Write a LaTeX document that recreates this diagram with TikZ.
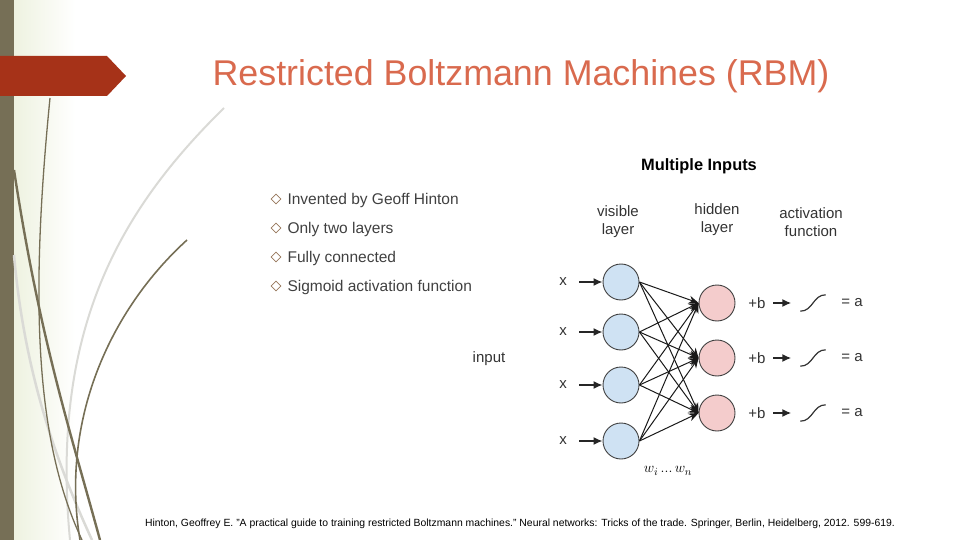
\documentclass[tikz,border=0pt]{standalone}
\usepackage{fontspec}
\setmainfont{Liberation Sans}
\usetikzlibrary{arrows.meta,positioning,shapes.geometric}
\definecolor{barolive}{RGB}{118,111,86}
\definecolor{bannerred}{RGB}{166,50,24}
\definecolor{titlecoral}{RGB}{217,106,78}
\definecolor{visblue}{RGB}{207,226,243}
\definecolor{hidpink}{RGB}{244,204,204}
\definecolor{curvegray}{RGB}{218,218,214}
\definecolor{bulletc}{RGB}{150,118,90}
\definecolor{shadegreen}{RGB}{238,242,224}
\begin{document}
\begin{tikzpicture}[x=1pt,y=-1pt,
  unit/.style={circle,draw=black!75,line width=0.9pt,minimum size=36pt,inner sep=0pt},
  wire/.style={-{Stealth[length=10pt,width=8pt]},line width=1pt,black!90},
  feed/.style={-{Latex[length=9pt,width=8pt]},line width=1.6pt,black!85},
  lbl/.style={font=\fontsize{15}{18}\selectfont,text=black!80,align=center},
  bul/.style={font=\fontsize{15.5}{18}\selectfont,text=black!75,anchor=west}]
\useasboundingbox (0,0) rectangle (960,540);
% background and left decoration
\shade[left color=shadegreen,right color=white] (14,0) rectangle (75,540);
\fill[barolive] (0,0) rectangle (14,540);
\fill[bannerred] (0,56) -- (107,56) -- (126,76) -- (107,96) -- (0,96) -- cycle;
\draw[curvegray,line width=2pt] (224,108) .. controls (120,210) and (50,330) .. (70,540);
\draw[curvegray,line width=2.5pt] (14,255) .. controls (25,380) and (60,470) .. (92,540);
\draw[barolive,line width=1.3pt] (50,98) .. controls (30,300) and (35,440) .. (82,540);
\draw[barolive,line width=2.4pt] (14,170) .. controls (40,340) and (70,430) .. (100,540);
\draw[barolive,line width=1.6pt] (187,240) .. controls (110,310) and (60,420) .. (80,540);
% title
\node (title) at (521,76) {\fontsize{35.8}{40}\selectfont\color{titlecoral}Restricted Boltzmann Machines (RBM)};
% bullets
\foreach \t [count=\k] in {Invented by Geoff Hinton,Only two layers,Fully connected,Sigmoid activation function}{
  \node[diamond,draw=bulletc,line width=0.8pt,minimum size=10pt,inner sep=0pt] (d\k) at (276,170+29*\k) {};
  \node[bul] (b\k) at (284,171+29*\k) {\t};}
% RBM diagram
\node (multi) at (699,166) {\fontsize{16.4}{19}\selectfont\bfseries Multiple Inputs};
\node[lbl] (vislbl) at (618,222) {visible\\layer};
\node[lbl] (hidlbl) at (717,220) {hidden\\layer};
\node[lbl] (actlbl) at (811,222) {activation\\function};
\node[lbl] (inp) at (489,359) {input};
\foreach \y [count=\i] in {282,332,385,441}{
  \node[unit,fill=visblue] (v\i) at (621,\y) {};
  \node[lbl] (x\i) at (563,\y) {x};
  \draw[feed,shorten <=9pt] (x\i) -- (v\i);}
\foreach \y [count=\j] in {303,358,413}{
  \node[unit,fill=hidpink] (h\j) at (717,\y) {};
  \node[lbl] (pb\j) at (757,\y) {+b};
  \node[minimum width=25pt,minimum height=16pt,inner sep=0pt] (sg\j) at (813,\y) {};
  \draw[line width=1.2pt,black!80] (sg\j.south west) .. controls (sg\j.south) and (sg\j.north) .. (sg\j.north east);
  \draw[feed,shorten <=4pt,shorten >=9pt] (pb\j) -- (sg\j);
  \node[lbl] (eq\j) at (852,\y) {= a};}
\foreach \i in {1,...,4}{\foreach \j in {1,2,3}{
  \draw[wire] (v\i.east) -- (h\j.west);}}
\node (wts) at (668,471) {\fontsize{15}{17}\selectfont$w_i\,...\,w_n$};
% reference
\node (cite) at (520,524) {\fontsize{10.4}{12}\selectfont Hinton, Geoffrey E. "A practical guide to training restricted Boltzmann machines." Neural networks: Tricks of the trade. Springer, Berlin, Heidelberg, 2012. 599-619.};
\end{tikzpicture}
\end{document}
